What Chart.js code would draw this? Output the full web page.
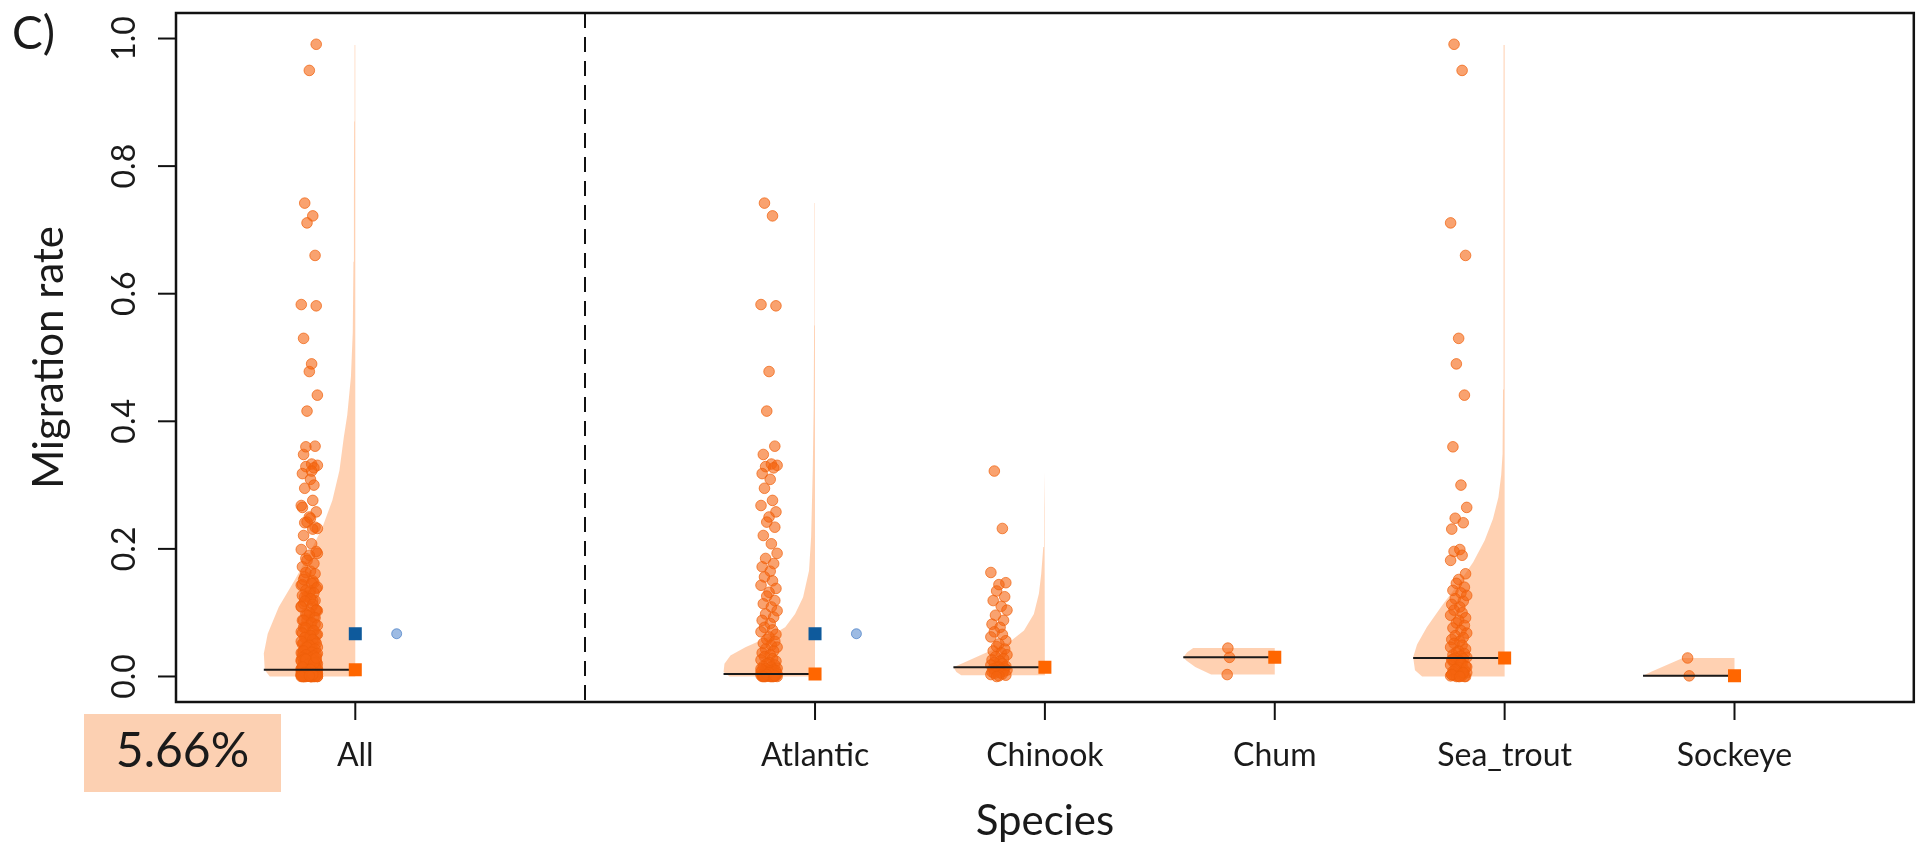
<!DOCTYPE html>
<html>
<head>
<meta charset="utf-8">
<title>Migration rate by species</title>
<script src="https://cdn.jsdelivr.net/npm/chart.js@4.4.1/dist/chart.umd.min.js"></script>
<style>
  html, body { margin: 0; padding: 0; background: #fff; overflow: hidden; }
  canvas { display: block; }
</style>
</head>
<body>
<canvas id="chart" width="1923" height="847"></canvas>
<script>
// groups on the x axis
const groupNames = ['All', 'Atlantic', 'Chinook', 'Chum', 'Sea_trout', 'Sockeye'];
const groupPos = [1, 3, 4, 5, 6, 7];
const separatorAt = 2;
const yTicks = [0, 0.2, 0.4, 0.6, 0.8, 1.0];

// migration rate of each population, per species
const atlantic = [
  0.742, 0.722, 0.583, 0.581, 0.478, 0.416, 0.361, 0.348, 0.333, 0.331, 0.329, 0.327,
  0.318, 0.309, 0.295, 0.276, 0.268, 0.258, 0.250, 0.242, 0.234, 0.221, 0.208, 0.193,
  0.185, 0.177, 0.172, 0.165, 0.156, 0.150, 0.143, 0.138, 0.132, 0.126, 0.119, 0.114,
  0.109, 0.103, 0.098, 0.093, 0.088, 0.083, 0.077, 0.073, 0.070, 0.066, 0.062, 0.058,
  0.055, 0.052, 0.049, 0.046, 0.043, 0.040, 0.037, 0.034, 0.031, 0.028, 0.026, 0.024,
  0.022, 0.020, 0.018, 0.016, 0.015, 0.013, 0.012, 0.011, 0.010, 0.009, 0.008, 0.007,
  0.007, 0.006, 0.006, 0.005, 0.005, 0.004, 0.004, 0.004, 0.003, 0.003, 0.003, 0.002,
  0.002, 0.002, 0.002, 0.001, 0.001, 0.001, 0.001, 0.001, 0.000, 0.000, 0.000, 0.000,
  0.000, 0.000, 0.000, 0.000, 0.012, 0.009, 0.006, 0.003, 0.001, 0.000
];
const chinook = [
  0.322, 0.232, 0.163, 0.147, 0.144, 0.134, 0.125, 0.119, 0.110, 0.104, 0.096, 0.088,
  0.082, 0.077, 0.070, 0.066, 0.062, 0.056, 0.051, 0.047, 0.043, 0.040, 0.037, 0.034,
  0.031, 0.028, 0.026, 0.024, 0.022, 0.020, 0.018, 0.016, 0.015, 0.014, 0.013, 0.012,
  0.011, 0.010, 0.009, 0.008, 0.007, 0.006, 0.005, 0.004, 0.003, 0.002, 0.001, 0.000
];
const chum = [0.0445, 0.030, 0.003];
const seaTrout = [
  0.991, 0.950, 0.711, 0.660, 0.530, 0.490, 0.441, 0.360, 0.300, 0.265, 0.248, 0.241,
  0.231, 0.199, 0.196, 0.190, 0.182, 0.161, 0.152, 0.146, 0.140, 0.135, 0.131, 0.127,
  0.122, 0.118, 0.113, 0.109, 0.104, 0.100, 0.096, 0.092, 0.088, 0.084, 0.080, 0.076,
  0.072, 0.068, 0.064, 0.061, 0.058, 0.055, 0.052, 0.049, 0.046, 0.043, 0.040, 0.038,
  0.036, 0.034, 0.032, 0.030, 0.029, 0.028, 0.026, 0.024, 0.022, 0.020, 0.018, 0.016,
  0.014, 0.012, 0.010, 0.008, 0.007, 0.006, 0.005, 0.004, 0.003, 0.002, 0.002, 0.001,
  0.001, 0.000, 0.000, 0.000, 0.000, 0.027, 0.021, 0.015, 0.011, 0.006, 0.003, 0.000
];
const sockeye = [0.029, 0.001];
// "All" pools every species
const all = [...atlantic, ...chinook, ...chum, ...seaTrout, ...sockeye];

// peak of each half violin (orange square + black line)
const peakRate = [0.0105, 0.004, 0.0146, 0.030, 0.029, 0.001];
// blue square / light blue dot
const blueRate = [0.067, 0.067, null, null, null, null];
const overallRate = 5.66;

// half-violin outlines: rate levels and half width in x units
const allViolinY = [0, 0.01, 0.036, 0.067, 0.109, 0.151, 0.193, 0.234, 0.276, 0.323, 0.375, 0.41, 0.47, 0.54, 0.65, 0.75, 0.87, 0.99];
const allViolinW = [0.372, 0.394, 0.398, 0.381, 0.333, 0.264, 0.199, 0.143, 0.100, 0.069, 0.050, 0.035, 0.019, 0.011, 0.008, 0.006, 0.005, 0.003];
const atlanticViolinY = [0, 0.007, 0.02, 0.033, 0.046, 0.062, 0.077, 0.098, 0.124, 0.166, 0.219, 0.323, 0.42, 0.55, 0.742];
const atlanticViolinW = [0.372, 0.398, 0.394, 0.368, 0.303, 0.203, 0.130, 0.087, 0.052, 0.026, 0.017, 0.010, 0.006, 0.004, 0.002];
const chinookViolinY = [0.002, 0.007, 0.0146, 0.022, 0.036, 0.051, 0.072, 0.098, 0.13, 0.161, 0.203, 0.26, 0.322];
const chinookViolinW = [0.364, 0.385, 0.398, 0.351, 0.264, 0.165, 0.091, 0.048, 0.026, 0.016, 0.007, 0.004, 0.002];
const chumViolinY = [0.003, 0.015, 0.025, 0.030, 0.038, 0.0445];
const chumViolinW = [0.277, 0.346, 0.385, 0.398, 0.381, 0.355];
const seaTroutViolinY = [0, 0.0096, 0.03, 0.05, 0.0775, 0.111, 0.145, 0.179, 0.213, 0.247, 0.281, 0.316, 0.349, 0.45, 0.6, 0.8, 0.99];
const seaTroutViolinW = [0.359, 0.390, 0.398, 0.381, 0.338, 0.273, 0.202, 0.137, 0.087, 0.051, 0.027, 0.015, 0.009, 0.007, 0.006, 0.005, 0.003];
const sockeyeViolinY = [0, 0.001, 0.008, 0.015, 0.022, 0.029];
const sockeyeViolinW = [0.39, 0.398, 0.36, 0.315, 0.27, 0.225];

const groupRates = [all, atlantic, chinook, chum, seaTrout, sockeye];
const violins = [
  [allViolinY, allViolinW], [atlanticViolinY, atlanticViolinW], [chinookViolinY, chinookViolinW],
  [chumViolinY, chumViolinW], [seaTroutViolinY, seaTroutViolinW], [sockeyeViolinY, sockeyeViolinW]
];
// fixed horizontal spread of the dots
const jitter = [-0.02, 0.015, -0.035, 0.03, 0.0, -0.01, 0.025, -0.025, 0.01, 0.035, -0.015, 0.02, -0.03, 0.005];

const datasets = [];
groupPos.forEach((pos, g) => {
  const [vy, vw] = violins[g];
  const outline = vy.map((v, i) => ({ x: pos - vw[i], y: v }));
  outline.push({ x: pos, y: vy[vy.length - 1] }, { x: pos, y: vy[0] });
  datasets.push({
    type: 'line', data: outline, fill: 'shape',
    backgroundColor: 'rgba(255,102,0,0.3)', borderColor: 'rgba(0,0,0,0)', borderWidth: 0,
    pointRadius: 0, tension: 0, order: 5
  });
  // small groups sit in a straight column
  const spread = groupRates[g].length > 5 ? 1 : 0.2;
  datasets.push({
    type: 'scatter',
    data: groupRates[g].map((v, i) => ({ x: pos - 0.2 + spread * jitter[i % jitter.length], y: v })),
    pointRadius: 5.3, backgroundColor: 'rgba(245,100,15,0.6)', borderColor: 'rgba(240,95,10,0.7)',
    borderWidth: 1, order: 4
  });
  const half = Math.max(...vw);
  datasets.push({
    type: 'line', data: [{ x: pos - half, y: peakRate[g] }, { x: pos, y: peakRate[g] }],
    borderColor: '#1a1a1a', borderWidth: 2, pointRadius: 0, fill: false, order: 3
  });
});
datasets.push({
  type: 'scatter', data: groupPos.map((p, g) => ({ x: p, y: peakRate[g] })),
  pointStyle: 'rect', pointRadius: 9.2, backgroundColor: '#ff6600', borderWidth: 0, order: 2
});
const blueIdx = groupPos.map((p, g) => g).filter(g => blueRate[g] !== null);
datasets.push({
  type: 'scatter', data: blueIdx.map(g => ({ x: groupPos[g], y: blueRate[g] })),
  pointStyle: 'rect', pointRadius: 9.2, backgroundColor: '#0e5a9c', borderWidth: 0, order: 1
});
datasets.push({
  type: 'scatter', data: blueIdx.map(g => ({ x: groupPos[g] + 0.18, y: blueRate[g] })),
  pointRadius: 5, backgroundColor: 'rgba(60,120,200,0.5)', borderColor: 'rgba(50,110,190,0.6)',
  borderWidth: 1, order: 1
});

// R style box, ticks and labels
const rStyleAxes = {
  id: 'rStyleAxes',
  afterDraw(chart) {
    const { ctx, chartArea: a, scales: { x, y } } = chart;
    ctx.save();
    ctx.strokeStyle = '#111';
    ctx.fillStyle = '#1a1a1a';

    ctx.lineWidth = 2;
    ctx.setLineDash([15, 9]);
    const sx = Math.round(x.getPixelForValue(separatorAt));
    ctx.beginPath(); ctx.moveTo(sx, a.top); ctx.lineTo(sx, a.bottom); ctx.stroke();
    ctx.setLineDash([]);

    ctx.lineWidth = 2.5;
    ctx.strokeRect(a.left, a.top, a.right - a.left, a.bottom - a.top);

    ctx.lineWidth = 2;
    ctx.font = '32px Lato';
    ctx.textAlign = 'center';
    ctx.textBaseline = 'alphabetic';
    yTicks.forEach(v => {
      const py = y.getPixelForValue(v);
      ctx.beginPath(); ctx.moveTo(a.left - 18, py); ctx.lineTo(a.left, py); ctx.stroke();
      ctx.save();
      ctx.translate(a.left - 41, py);
      ctx.rotate(-Math.PI / 2);
      ctx.fillText(v.toFixed(1), 0, 0);
      ctx.restore();
    });
    groupPos.forEach((p, g) => {
      const px = x.getPixelForValue(p);
      ctx.beginPath(); ctx.moveTo(px, a.bottom); ctx.lineTo(px, a.bottom + 18); ctx.stroke();
      ctx.fillText(groupNames[g], px, a.bottom + 64);
    });

    ctx.font = '42px Lato';
    ctx.fillText('Species', (a.left + a.right) / 2, a.bottom + 133);
    ctx.save();
    ctx.translate(63, (a.top + a.bottom) / 2);
    ctx.rotate(-Math.PI / 2);
    ctx.fillText('Migration rate', 0, 0);
    ctx.restore();

    ctx.font = '46px Lato';
    ctx.textAlign = 'left';
    ctx.fillText('C)', 12, 49);

    ctx.fillStyle = 'rgb(252,208,178)';
    ctx.fillRect(84, 714, 197, 78);
    ctx.fillStyle = '#1a1a1a';
    ctx.font = '48px Lato';
    ctx.textAlign = 'center';
    ctx.fillText(overallRate.toFixed(2) + '%', 182.5, 767);
    ctx.restore();
  }
};

document.fonts.load('32px Lato').then(() => {
  new Chart(document.getElementById('chart'), {
    type: 'scatter',
    data: { datasets },
    options: {
      responsive: false,
      devicePixelRatio: 1,
      animation: false,
      layout: { padding: { left: 176, top: 13, right: 2, bottom: 145 } },
      scales: {
        x: { type: 'linear', min: 0.22, max: 7.78, display: false },
        y: { type: 'linear', min: -0.04, max: 1.04, display: false }
      },
      plugins: { legend: { display: false }, tooltip: { enabled: false } }
    },
    plugins: [rStyleAxes]
  });
});
</script>
</body>
</html>
